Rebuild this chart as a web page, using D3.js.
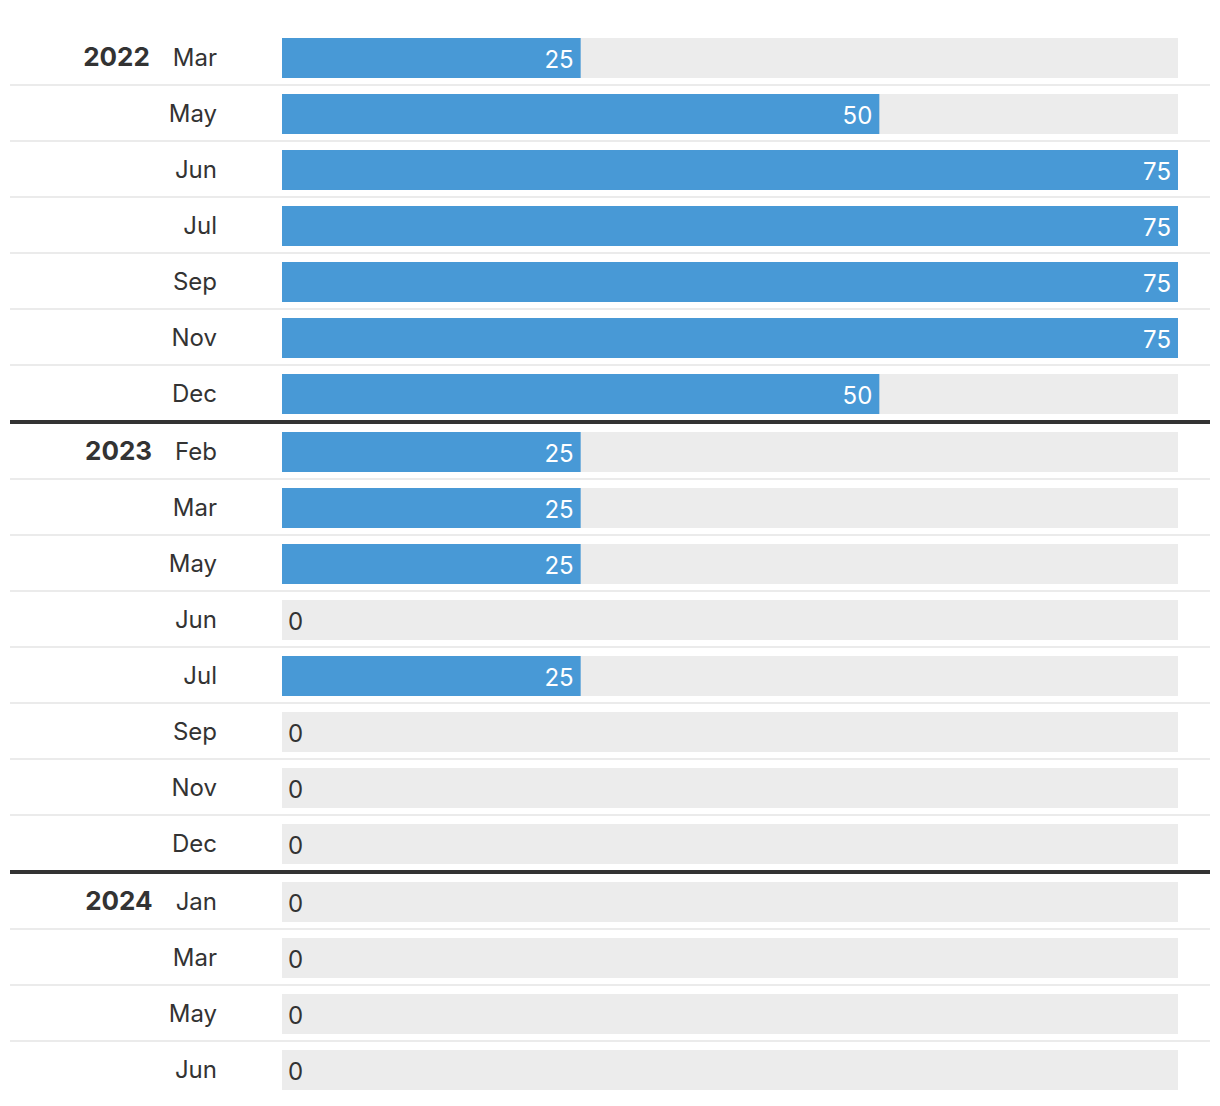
<!DOCTYPE html>
<html>
<head>
<meta charset="utf-8">
<script src="https://cdn.jsdelivr.net/npm/d3@7"></script>
<style>
  html, body { margin: 0; padding: 0; background: #ffffff; }
  svg { display: block; font-family: "Inter", "Lato", sans-serif; }
</style>
</head>
<body>
<svg id="chart" width="1220" height="1106"></svg>
<script>
const years  = ["2022", "2022", "2022", "2022", "2022", "2022", "2022",
                "2023", "2023", "2023", "2023", "2023", "2023", "2023", "2023",
                "2024", "2024", "2024", "2024"];
const months = ["Mar", "May", "Jun", "Jul", "Sep", "Nov", "Dec",
                "Feb", "Mar", "May", "Jun", "Jul", "Sep", "Nov", "Dec",
                "Jan", "Mar", "May", "Jun"];
const values = [25, 50, 75, 75, 75, 75, 50,
                25, 25, 25, 0, 25, 0, 0, 0,
                0, 0, 0, 0];
const maxValue = 75;

const data = months.map((m, i) => ({
  i, month: m, year: years[i], value: values[i],
  firstOfYear: i === 0 || years[i - 1] !== years[i],
  lastOfYear: i === months.length - 1 || years[i + 1] !== years[i],
  last: i === months.length - 1
}));
const yearList = Array.from(new Set(years));
data.forEach(d => { d.group = yearList.indexOf(d.year); });

const svg = d3.select("#chart");
const x = d3.scaleLinear().domain([0, maxValue]).range([282, 1178]);
const yIdx = d3.scaleLinear().domain([0, 1]).range([38, 94]);
const barH = 40;
const groupExtra = 2;
const rowTop = d => yIdx(d.i) + d.group * groupExtra;

const rows = svg.selectAll("g.row").data(data).join("g")
  .attr("class", "row")
  .attr("transform", d => `translate(0,${rowTop(d)})`);

// background track
rows.append("rect")
  .attr("x", x(0)).attr("y", 0)
  .attr("width", x(maxValue) - x(0)).attr("height", barH)
  .attr("fill", "#ececec");

// value bar
rows.append("rect")
  .attr("x", x(0)).attr("y", 0)
  .attr("width", d => x(d.value) - x(0)).attr("height", barH)
  .attr("fill", "#4899d6");

// value label
rows.append("text")
  .attr("x", d => d.value > 0 ? x(d.value) - 7 : x(0) + 6)
  .attr("y", barH / 2 + 9.5)
  .attr("text-anchor", d => d.value > 0 ? "end" : "start")
  .attr("fill", d => d.value > 0 ? "#ffffff" : "#333333")
  .attr("font-size", 24)
  .text(d => d.value);

// category label (year bold + month)
const lab = rows.append("text")
  .attr("x", 217)
  .attr("y", barH / 2 + 8)
  .attr("text-anchor", "end")
  .attr("fill", "#333333")
  .attr("font-size", 24);
lab.filter(d => d.firstOfYear).append("tspan")
  .attr("font-weight", "bold")
  .attr("font-size", 26)
  .text(d => d.year);
lab.append("tspan")
  .attr("dx", d => d.firstOfYear ? 23 : 0)
  .text(d => d.month);

// separators
rows.filter(d => !d.last).append("line")
  .attr("x1", 10).attr("x2", 1210)
  .attr("y1", d => d.lastOfYear ? barH + 8 : barH + 7)
  .attr("y2", d => d.lastOfYear ? barH + 8 : barH + 7)
  .attr("stroke", d => d.lastOfYear ? "#333333" : "#ebebeb")
  .attr("stroke-width", d => d.lastOfYear ? 4 : 2);
</script>
</body>
</html>
